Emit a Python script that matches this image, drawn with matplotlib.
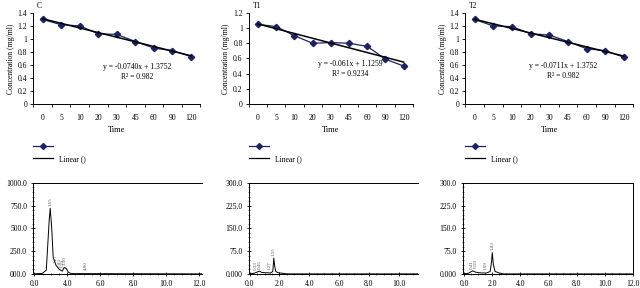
import numpy as np
import matplotlib
matplotlib.use('Agg')
from matplotlib import pyplot as plt
from matplotlib.lines import Line2D
from matplotlib.ticker import MultipleLocator

plt.rcParams['font.family'] = ['Liberation Serif', 'DejaVu Serif']

# degradation curves
times = ['0', '5', '10', '20', '30', '45', '60', '90', '120']
conc_c = [1.30, 1.22, 1.20, 1.08, 1.07, 0.96, 0.86, 0.82, 0.73]
conc_t1 = [1.05, 1.02, 0.90, 0.80, 0.81, 0.80, 0.76, 0.59, 0.50]
conc_t2 = [1.30, 1.20, 1.19, 1.08, 1.06, 0.96, 0.85, 0.82, 0.72]
eq_c = ['y = -0.0740x + 1.3752', 'R\u00b2 = 0.982']
eq_t1 = ['y = -0.061x + 1.1259', 'R\u00b2 = 0.9234']
eq_t2 = ['y = -0.0711x + 1.3752', 'R\u00b2 = 0.982']

# chromatograms (x in drawn axis units)
chrom_c_x = [1.94, 2.48, 2.73, 2.91, 2.97, 3.06, 3.15, 3.33, 3.52, 3.70, 3.82, 3.94, 4.06, 4.24, 12.2]
chrom_c_y = [0, 5, 40, 600, 720, 500, 180, 90, 50, 30, 70, 60, 20, 3, 0]
peaks_c_x = [2.97, 3.30, 3.52, 3.72, 3.88, 5.15]
peaks_c_y = [730, 95, 60, 45, 80, 20]
peaks_c_lbl = ['1.65', '2.27', '2.83', '3.19', '3.30', '4.90']

chrom_t1_x = [0, 0.3, 0.5, 0.65, 0.8, 1.0, 1.4, 1.55, 1.62, 1.68, 1.75, 1.9, 2.2, 2.5, 11.3]
chrom_t1_y = [0, 2, 6, 9, 5, 4, 3, 8, 52, 25, 8, 4, 2, 0, 0]
peaks_t1_x = [0.40, 0.68, 1.30, 1.62]
peaks_t1_y = [8, 10, 6, 54]
peaks_t1_lbl = ['0.33', '0.45', '1.27', '1.55']

chrom_t2_x = [0, 0.3, 0.6, 0.8, 1.0, 1.3, 1.6, 1.85, 1.95, 2.0, 2.08, 2.2, 2.5, 2.8, 12.0]
chrom_t2_y = [0, 2, 10, 6, 4, 3, 3, 8, 40, 70, 30, 8, 3, 0, 0]
peaks_t2_x = [0.55, 0.85, 1.50, 2.0]
peaks_t2_y = [10, 12, 6, 72]
peaks_t2_lbl = ['0.41', '0.59', '1.09', '1.83']

NAVY = '#1b2266'
FS = 5.5

fig = plt.figure(figsize=(6.4, 2.88), dpi=100)


def top_panel(rect, vals, ymax, eq, eq_xy, title, leg_xy):
    ax = fig.add_axes(rect)
    x = np.arange(1, len(vals) + 1)
    ax.plot(x, vals, color=NAVY, lw=0.9, marker='D', ms=3.2, mfc=NAVY, mec=NAVY)
    k, b = np.polyfit(x, vals, 1)
    ax.plot(x, k * x + b, color='black', lw=1.1)
    ax.set_xlim(0.5, len(vals) + 0.5)
    ax.set_ylim(0, ymax)
    ax.set_xticks(x)
    ax.set_xticklabels(times)
    ax.set_xticks(np.arange(0.5, len(vals) + 1), minor=True)
    ax.tick_params(axis='x', which='major', length=0, labelsize=FS, pad=7)
    ax.tick_params(axis='x', which='minor', length=2.5, direction='out', width=0.6)
    ax.yaxis.set_major_locator(MultipleLocator(0.2))
    ax.yaxis.set_major_formatter(plt.FuncFormatter(lambda v, p: ('%.1f' % v).rstrip('0').rstrip('.') if v else '0'))
    ax.tick_params(axis='y', labelsize=FS, length=2.5, width=0.6, pad=2)
    for s in ['top', 'right']:
        ax.spines[s].set_visible(False)
    for s in ['left', 'bottom']:
        ax.spines[s].set_linewidth(0.7)
    ax.set_xlabel('Time', fontsize=6, labelpad=3)
    ax.set_ylabel('Concentration (mg/ml)', fontsize=FS, labelpad=2)
    ax.text(eq_xy[0], eq_xy[1], eq[0], transform=ax.transAxes, fontsize=FS, ha='center', va='center')
    ax.text(eq_xy[0], eq_xy[1] - 0.115, eq[1], transform=ax.transAxes, fontsize=FS, ha='center', va='center')
    fig.text(rect[0] + 0.006, 0.978, title, fontsize=FS, ha='left', va='center')
    handles = [Line2D([], [], color=NAVY, lw=0.9, marker='D', ms=3, mfc=NAVY, mec=NAVY),
               Line2D([], [], color='black', lw=0.9)]
    fig.legend(handles, ['', 'Linear ()'], loc='upper left', bbox_to_anchor=leg_xy,
               frameon=False, fontsize=FS, handlelength=2.6, handletextpad=0.8,
               labelspacing=0.5, borderpad=0, borderaxespad=0)
    return ax


def chrom_panel(rect, xs, ys, xlim, ymax, ystep, ylabels, xticks, xlabels, px, py, plbl, right):
    ax = fig.add_axes(rect)
    ax.plot(xs, ys, color='black', lw=0.7)
    for x, y, t in zip(px, py, plbl):
        ax.text(x, y + ymax * 0.02, t, rotation=90, fontsize=3.6, color='#555555',
                ha='center', va='bottom')
    ax.set_xlim(*xlim)
    ax.set_ylim(0, ymax)
    ax.set_xticks(xticks)
    ax.set_xticklabels(xlabels)
    ax.xaxis.set_minor_locator(MultipleLocator(0.5))
    ax.set_yticks(np.arange(0, ymax + 1, ystep))
    ax.set_yticklabels(ylabels)
    ax.yaxis.set_minor_locator(MultipleLocator(ystep / 5))
    ax.tick_params(axis='both', which='major', labelsize=FS, length=3, width=0.6, direction='inout', pad=3)
    ax.tick_params(axis='both', which='minor', length=1.8, width=0.4, direction='inout')
    ax.spines['right'].set_visible(right)
    for s in ['left', 'bottom', 'top', 'right']:
        ax.spines[s].set_linewidth(0.7)
    return ax


top_panel([0.052, 0.639, 0.261, 0.316], conc_c, 1.4, eq_c, (0.62, 0.41), 'C', (0.052, 0.503))
top_panel([0.389, 0.639, 0.256, 0.316], conc_t1, 1.2, eq_t1, (0.62, 0.44), 'T1', (0.389, 0.503))
top_panel([0.727, 0.639, 0.2625, 0.316], conc_t2, 1.4, eq_t2, (0.58, 0.42), 'T2', (0.727, 0.503))

chrom_panel([0.052, 0.049, 0.264, 0.316], chrom_c_x, chrom_c_y, (1.94, 12.2), 1000, 250,
            ['000.0', '250.0', '500.0', '750.0', '1000.0'],
            [2, 4, 6, 8, 10, 12], ['0.0', '4.0', '6.0', '8.0', '10.0', '12.0'],
            peaks_c_x, peaks_c_y, peaks_c_lbl, False)
chrom_panel([0.389, 0.049, 0.264, 0.316], chrom_t1_x, chrom_t1_y, (-0.05, 11.3), 300, 75,
            ['0.000', '75.0', '150.0', '225.0', '300.0'],
            [0, 2, 4, 6, 8, 10], ['0.0', '2.0', '4.0', '6.0', '8.0', '10.0'],
            peaks_t1_x, peaks_t1_y, peaks_t1_lbl, False)
chrom_panel([0.723, 0.049, 0.266, 0.316], chrom_t2_x, chrom_t2_y, (-0.1, 11.8), 300, 75,
            ['0.000', '75.0', '150.0', '225.0', '300.0'],
            [0, 2, 4, 6, 8, 10, 12], ['0.0', '2.0', '4.0', '6.0', '8.0', '10.0', '12.0'],
            peaks_t2_x, peaks_t2_y, peaks_t2_lbl, True)

plt.savefig('out.png', dpi=100)
